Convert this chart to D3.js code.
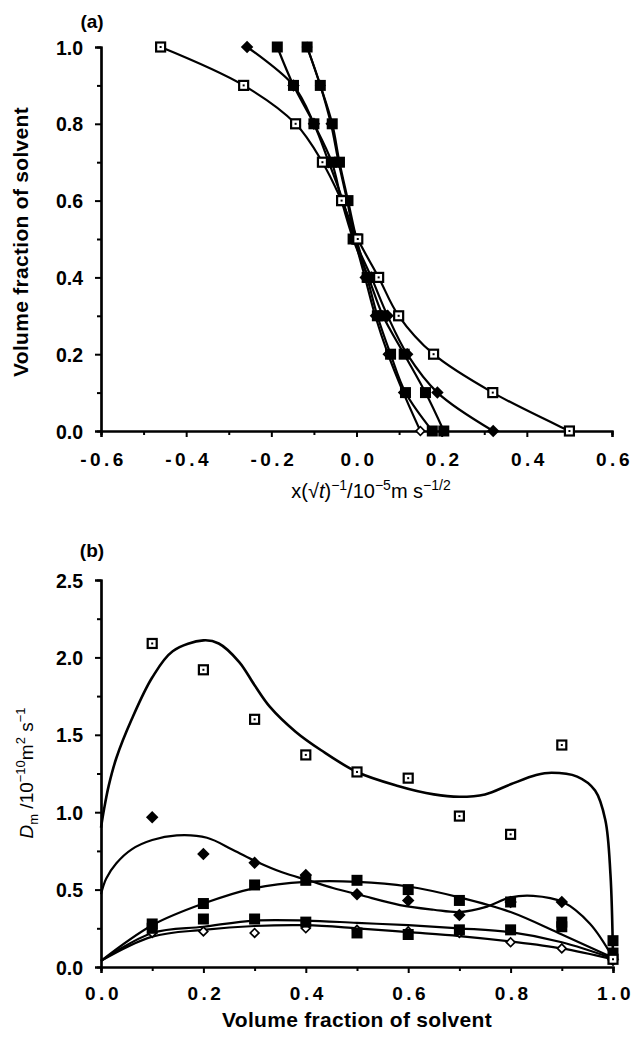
<!DOCTYPE html>
<html>
<head>
<meta charset="utf-8">
<script src="https://cdn.jsdelivr.net/npm/d3@7"></script>
<style>
body { margin: 0; background: #fff; }
svg text { font-family: "Liberation Sans", Arial, sans-serif; fill: #000; }
</style>
</head>
<body>
<svg id="chart" width="634" height="1037"></svg>
<script>

// ---- panel (a): volume fraction vs x/sqrt(t), one array per sample
var fracA = [1.0, 0.9, 0.8, 0.7, 0.6, 0.5, 0.4, 0.3, 0.2, 0.1, 0.0];
var aOpenSquare   = [-0.46, -0.265, -0.143, -0.08, -0.035, 0.003, 0.052, 0.099, 0.181, 0.32, 0.50];
var aDiamond      = [-0.257, -0.148, -0.10, -0.065, -0.032, -0.005, 0.035, 0.073, 0.119, 0.19, 0.321];
var aSquare1      = [-0.186, -0.148, -0.10, -0.058, -0.035, -0.008, 0.028, 0.062, 0.112, 0.162, 0.205];
var aSquare2      = [-0.116, -0.085, -0.057, -0.04, -0.02, 0.0, 0.025, 0.049, 0.08, 0.115, 0.178];
var aOpenDiamond  = [-0.116, -0.085, -0.06, -0.042, -0.022, -0.004, 0.02, 0.044, 0.074, 0.11, 0.150];

var xTicksA = [-0.6, -0.4, -0.2, 0.0, 0.2, 0.4, 0.6];
var xMinorA = [-0.5, -0.3, -0.1, 0.1, 0.3, 0.5];
var yTicksA = [0.0, 0.2, 0.4, 0.6, 0.8, 1.0];
var yMinorA = [0.1, 0.3, 0.5, 0.7, 0.9];

// ---- panel (b): Dm vs volume fraction, measured points
var fracB = [0.1, 0.2, 0.3, 0.4, 0.5, 0.6, 0.7, 0.8, 0.9, 1.0];
var bOpenSquare  = [2.09, 1.92, 1.60, 1.37, 1.26, 1.22, 0.975, 0.857, 1.434, 0.05];
var bDiamond     = [0.967, 0.73, 0.674, 0.594, 0.47, 0.43, 0.336, 0.42, 0.42, 0.05];
var bSquare1     = [0.278, 0.41, 0.53, 0.56, 0.56, 0.50, 0.43, 0.42, 0.29, 0.17];
var bSquare2     = [0.25, 0.31, 0.31, 0.29, 0.22, 0.21, 0.24, 0.24, 0.26, 0.09];
var bOpenDiamond = [0.22, 0.23, 0.22, 0.25, 0.24, 0.23, 0.22, 0.16, 0.12, 0.04];

// fitted curves in (b)
var fitOpenSquareX = [0, 0.006, 0.015, 0.03, 0.06, 0.10, 0.14, 0.20, 0.23, 0.27, 0.30, 0.33, 0.38, 0.43, 0.50, 0.58, 0.65, 0.70, 0.75, 0.80, 0.85, 0.88, 0.93, 0.965, 0.985, 0.995, 1.0];
var fitOpenSquareY = [0.9, 1.02, 1.17, 1.35, 1.60, 1.87, 2.04, 2.11, 2.09, 1.97, 1.82, 1.68, 1.52, 1.40, 1.26, 1.17, 1.115, 1.10, 1.115, 1.18, 1.24, 1.255, 1.23, 1.14, 0.95, 0.60, 0.06];
var fitDiamondX = [0, 0.01, 0.03, 0.06, 0.10, 0.148, 0.207, 0.258, 0.304, 0.355, 0.405, 0.453, 0.506, 0.584, 0.65, 0.70, 0.754, 0.80, 0.844, 0.902, 0.955, 1.0];
var fitDiamondY = [0.47, 0.57, 0.67, 0.76, 0.82, 0.85, 0.835, 0.756, 0.68, 0.61, 0.56, 0.51, 0.465, 0.40, 0.37, 0.355, 0.39, 0.45, 0.46, 0.42, 0.28, 0.06];
var fitStepX = [0, 0.1, 0.2, 0.3, 0.4, 0.5, 0.6, 0.7, 0.8, 0.9, 1.0];
var fitSquare1Y = [0.04, 0.27, 0.41, 0.51, 0.55, 0.55, 0.52, 0.45, 0.355, 0.21, 0.06];
var fitSquare2Y = [0.04, 0.22, 0.26, 0.30, 0.30, 0.285, 0.27, 0.25, 0.225, 0.16, 0.055];
var fitOpenDiamondY = [0.04, 0.196, 0.24, 0.265, 0.27, 0.25, 0.225, 0.20, 0.165, 0.12, 0.05];

var xTicksB = [0.0, 0.2, 0.4, 0.6, 0.8, 1.0];
var xMinorB = [0.1, 0.3, 0.5, 0.7, 0.9];
var yTicksB = [0.0, 0.5, 1.0, 1.5, 2.0, 2.5];
var yMinorB = [0.25, 0.75, 1.25, 1.75, 2.25];

var svg = d3.select("#chart");

var xA = d3.scaleLinear().domain([-0.6, 0.6]).range([101, 612]);
var yA = d3.scaleLinear().domain([0, 1]).range([431, 47]);
var xB = d3.scaleLinear().domain([0, 1]).range([101, 613]);
var yB = d3.scaleLinear().domain([0, 2.5]).range([967, 580]);

function fmt(d) { return d.toFixed(1); }

function drawAxes(x, y, xt, xm, yt, ym, xPad) {
    var g = svg.append("g");
    var x0 = y.range()[0];
    var y0 = x.range()[0];

    // minor ticks first, no labels
    g.append("g").attr("transform", "translate(0," + x0 + ")")
        .call(d3.axisBottom(x).tickValues(xm).tickSize(4).tickFormat(""));
    g.append("g").attr("transform", "translate(" + y0 + ",0)")
        .call(d3.axisLeft(y).tickValues(ym).tickSize(4).tickFormat(""));

    var gx = g.append("g").attr("transform", "translate(0," + x0 + ")")
        .call(d3.axisBottom(x).tickValues(xt).tickSize(6).tickPadding(xPad).tickFormat(fmt));
    var gy = g.append("g").attr("transform", "translate(" + y0 + ",0)")
        .call(d3.axisLeft(y).tickValues(yt).tickSize(6).tickPadding(12).tickFormat(fmt));

    g.selectAll(".domain").attr("stroke-width", 2.2);
    g.selectAll(".tick line").attr("stroke-width", 2);
    gx.selectAll("text").style("font-size", "19px").style("font-weight", "bold")
        .style("letter-spacing", "3.5px").attr("dx", "2px");
    gy.selectAll("text").style("font-size", "19.5px").style("font-weight", "bold")
        .attr("dy", "0.36em");
    g.selectAll("text").style("font-family", "'Liberation Sans', Arial, sans-serif");
}

function points(xs, ys) {
    return xs.map(function (d, i) { return [d, ys[i]]; });
}

function drawCurve(data, x, y, curve, width) {
    var line = d3.line()
        .x(function (d) { return x(d[0]); })
        .y(function (d) { return y(d[1]); })
        .curve(curve);
    svg.append("path")
        .datum(data)
        .attr("d", line)
        .attr("fill", "none")
        .attr("stroke", "#000")
        .attr("stroke-width", width);
}

function drawMarkers(data, x, y, kind) {
    var g = svg.append("g");
    var sel = g.selectAll("g").data(data).enter().append("g")
        .attr("transform", function (d) { return "translate(" + x(d[0]) + "," + y(d[1]) + ")"; });
    if (kind == "openSquare") {
        sel.append("rect").attr("x", -4.5).attr("y", -4.5).attr("width", 9).attr("height", 9)
            .attr("fill", "#fff").attr("stroke", "#000").attr("stroke-width", 2.2);
        sel.append("rect").attr("x", -1).attr("y", -1).attr("width", 2).attr("height", 2)
            .attr("fill", "#000");
    } else if (kind == "square") {
        sel.append("rect").attr("x", -5.5).attr("y", -5.5).attr("width", 11).attr("height", 11)
            .attr("fill", "#000");
    } else if (kind == "diamond") {
        sel.append("path").attr("d", d3.symbol(d3.symbolSquare, 78))
            .attr("transform", "rotate(45)").attr("fill", "#000");
    } else {
        sel.append("path").attr("d", d3.symbol(d3.symbolSquare, 38))
            .attr("transform", "rotate(45)")
            .attr("fill", "#fff").attr("stroke", "#000").attr("stroke-width", 1.7);
    }
}

// ---------------- panel (a)
drawAxes(xA, yA, xTicksA, xMinorA, yTicksA, yMinorA, 16);

var seriesA = [
    { v: aOpenDiamond, kind: "openDiamond" },
    { v: aSquare2, kind: "square" },
    { v: aSquare1, kind: "square" },
    { v: aDiamond, kind: "diamond" },
    { v: aOpenSquare, kind: "openSquare" }
];
seriesA.forEach(function (s) {
    drawCurve(points(s.v, fracA), xA, yA, d3.curveCatmullRom, 2.2);
});
seriesA.forEach(function (s) {
    drawMarkers(points(s.v, fracA), xA, yA, s.kind);
});

// ---------------- panel (b)
drawAxes(xB, yB, xTicksB, xMinorB, yTicksB, yMinorB, 14);

drawCurve(points(fitOpenSquareX, fitOpenSquareY), xB, yB, d3.curveCatmullRom, 2.6);
drawCurve(points(fitDiamondX, fitDiamondY), xB, yB, d3.curveCatmullRom, 2.2);
drawCurve(points(fitStepX, fitSquare1Y), xB, yB, d3.curveCatmullRom, 2.2);
drawCurve(points(fitStepX, fitSquare2Y), xB, yB, d3.curveCatmullRom, 2.2);
drawCurve(points(fitStepX, fitOpenDiamondY), xB, yB, d3.curveCatmullRom, 2.2);

drawMarkers(points(fracB, bOpenDiamond), xB, yB, "openDiamond");
drawMarkers(points(fracB, bSquare2), xB, yB, "square");
drawMarkers(points(fracB, bSquare1), xB, yB, "square");
drawMarkers(points(fracB, bDiamond), xB, yB, "diamond");
drawMarkers(points(fracB, bOpenSquare), xB, yB, "openSquare");

// ---------------- labels
svg.append("text").attr("x", 92).attr("y", 28).attr("text-anchor", "middle")
    .style("font-size", "19px").style("font-weight", "bold").text("(a)");
svg.append("text").attr("x", 92).attr("y", 557).attr("text-anchor", "middle")
    .style("font-size", "19px").style("font-weight", "bold").text("(b)");

svg.append("text")
    .attr("transform", "translate(28,242) rotate(-90)")
    .attr("text-anchor", "middle")
    .style("font-size", "21px").style("font-weight", "bold").style("letter-spacing", "0.3px")
    .text("Volume fraction of solvent");

svg.append("text").attr("x", 357).attr("y", 1027).attr("text-anchor", "middle")
    .style("font-size", "21px").style("font-weight", "bold").style("letter-spacing", "0.3px")
    .text("Volume fraction of solvent");

// x(√t)^-1/10^-5 m s^-1/2
var tA = svg.append("text").attr("x", 371).attr("y", 498).attr("text-anchor", "middle")
    .style("font-size", "20px");
tA.append("tspan").text("x(√");
tA.append("tspan").style("font-style", "italic").text("t");
tA.append("tspan").text(")");
tA.append("tspan").attr("dy", -8).style("font-size", "14px").text("−1");
tA.append("tspan").attr("dy", 8).text("/10");
tA.append("tspan").attr("dy", -8).style("font-size", "14px").text("−5");
tA.append("tspan").attr("dy", 8).text("m s");
tA.append("tspan").attr("dy", -8).style("font-size", "14px").text("−1/2");

// Dm /10^-10 m^2 s^-1
var tB = svg.append("text")
    .attr("transform", "translate(33,773) rotate(-90)")
    .attr("text-anchor", "middle")
    .style("font-size", "19px");
tB.append("tspan").style("font-style", "italic").text("D");
tB.append("tspan").attr("dy", 5).style("font-size", "13px").text("m");
tB.append("tspan").attr("dy", -5).text(" /10");
tB.append("tspan").attr("dy", -8).style("font-size", "13px").text("−10");
tB.append("tspan").attr("dy", 8).text("m");
tB.append("tspan").attr("dy", -8).style("font-size", "13px").text("2");
tB.append("tspan").attr("dy", 8).text(" s");
tB.append("tspan").attr("dy", -8).style("font-size", "13px").text("−1");

</script>
</body>
</html>
